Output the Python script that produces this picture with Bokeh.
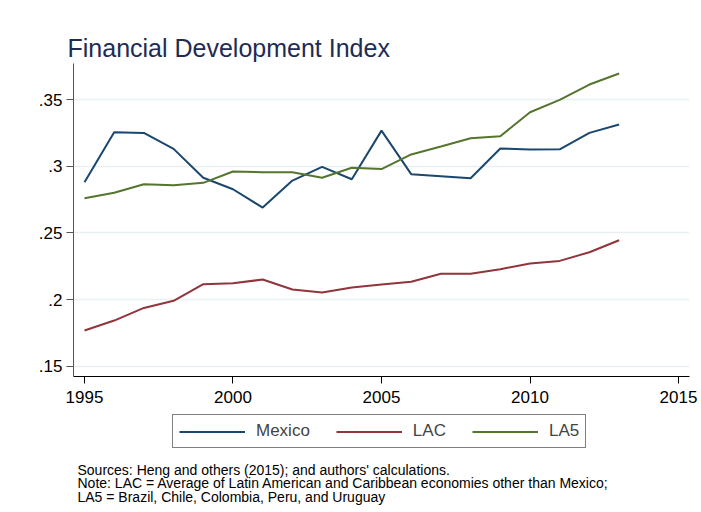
from bokeh.plotting import figure
from bokeh.layouts import column
from bokeh.models import Range1d, FixedTicker, Legend, LegendItem, Label
from bokeh.embed import file_html
from bokeh.resources import INLINE

years = list(range(1995, 2014))
mexico = [0.2880, 0.3256, 0.3251, 0.3131, 0.2914, 0.2828, 0.2690, 0.2893, 0.2996, 0.2903,
          0.3268, 0.2941, 0.2926, 0.2911, 0.3134, 0.3126, 0.3128, 0.3251, 0.3314]
lac = [0.1767, 0.1842, 0.1937, 0.1990, 0.2115, 0.2122, 0.2150, 0.2075, 0.2053, 0.2090,
       0.2112, 0.2133, 0.2193, 0.2193, 0.2228, 0.2270, 0.2290, 0.2355, 0.2445]
la5 = [0.2761, 0.2801, 0.2866, 0.2858, 0.2876, 0.2961, 0.2956, 0.2956, 0.2914, 0.2989,
       0.2979, 0.3089, 0.3149, 0.3211, 0.3226, 0.3406, 0.3499, 0.3614, 0.3697]
series_names = ["Mexico", "LAC", "LA5"]
series_colors = ["#1a476f", "#90353b", "#55752f"]
y_ticks = [0.15, 0.20, 0.25, 0.30, 0.35]
y_tick_labels = [".15", ".2", ".25", ".3", ".35"]
x_ticks = [1995, 2000, 2005, 2010, 2015]
title_text = "Financial Development Index"
notes = [
    "Sources: Heng and others (2015); and authors' calculations.",
    "Note: LAC = Average of Latin American and Caribbean economies other than Mexico;",
    "LA5 = Brazil, Chile, Colombia, Peru, and Uruguay",
]

FONT = "Liberation Sans"
W = 701
H1 = 412
H2 = 512 - H1

# ---------------- main chart ----------------
p = figure(width=W, height=H1, output_backend="svg", toolbar_location=None,
           x_range=Range1d(1994.63, 2015.37), y_range=Range1d(0.1422, 0.3772),
           min_border_left=73, min_border_right=12, min_border_top=63, min_border_bottom=H1 - 376)
p.outline_line_color = None
p.background_fill_color = "white"
p.border_fill_color = "white"

p.title.text = title_text
p.title.align = "left"
p.title.offset = -6
p.title.standoff = 4
p.title.text_font = FONT
p.title.text_font_size = "25px"
p.title.text_font_style = "normal"
p.title.text_color = "#1e2c53"

for name, vals, col in zip(series_names, [mexico, lac, la5], series_colors):
    p.line(years, vals, line_color=col, line_width=2)

p.xaxis.ticker = FixedTicker(ticks=x_ticks)
p.yaxis.ticker = FixedTicker(ticks=y_ticks)
p.yaxis.major_label_overrides = {t: l for t, l in zip(y_ticks, y_tick_labels)}
for ax in (p.xaxis, p.yaxis):
    ax.minor_tick_line_color = None
    ax.major_tick_out = 7
    ax.major_tick_in = 0
    ax.major_label_text_font = FONT
    ax.major_label_text_font_size = "17px"
    ax.major_label_text_color = "black"
    ax.axis_line_color = "black"
    ax.major_tick_line_color = "black"
p.yaxis.axis_line_color = "#555555"
p.yaxis.major_tick_line_color = "#555555"
p.yaxis.major_label_orientation = "horizontal"
p.yaxis.major_label_standoff = 4
p.xaxis.major_label_standoff = 7

p.xgrid.grid_line_color = None
p.ygrid.grid_line_color = "#e8f0f2"
p.ygrid.grid_line_width = 1.5

# ---------------- legend + notes (frame aligned with main frame: x 73..689) ----------------
q = figure(width=W, height=H2, output_backend="svg", toolbar_location=None,
           x_range=Range1d(1994.63, 2015.37), y_range=Range1d(0, 1),
           x_axis_location=None, y_axis_location=None,
           min_border_left=73, min_border_right=12, min_border_top=0, min_border_bottom=0)
q.outline_line_color = None
q.xgrid.grid_line_color = None
q.ygrid.grid_line_color = None
q.background_fill_color = "white"
q.border_fill_color = "white"

items = []
for name, vals, col in zip(series_names, [mexico, lac, la5], series_colors):
    r = q.line(years, vals, line_color=col, line_width=2, visible=False)
    items.append(LegendItem(label=name, renderers=[r]))

legend = Legend(items=items, orientation="horizontal", location=(99, 64),
                click_policy="none",
                border_line_color="black", border_line_width=1,
                background_fill_color="white", background_fill_alpha=1,
                label_text_font=FONT, label_text_font_size="17px",
                glyph_width=66, glyph_height=17, label_height=17,
                label_standoff=11, spacing=26, padding=6, margin=0)
q.add_layout(legend, "center")

note_y = [43, 29.3, 15.7]
for t, yy in zip(notes, note_y):
    q.add_layout(Label(x=4, y=yy, x_units="screen", y_units="screen", text=t,
                       text_font=FONT, text_font_size="14px", text_color="black",
                       text_baseline="alphabetic", text_align="left"))

layout = column(p, q, spacing=0)
open("out.html", "w").write(file_html(layout, INLINE))
